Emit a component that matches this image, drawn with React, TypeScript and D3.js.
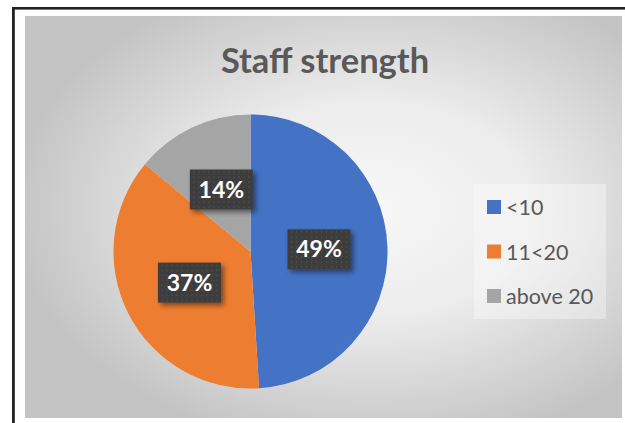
import React from "react";
import * as d3 from "d3";

const categories = ["<10", "11<20", "above 20"];
const values = [49, 37, 14];
const colors = ["#4472C4", "#ED7D31", "#A5A5A5"];
const title = "Staff strength";

const W = 625;
const H = 423;

export default function App() {
  const cx = 250.5;
  const cy = 251.5;
  const r = 137;
  const pie = d3.pie<number>().sort(null).value((d) => d)(values);
  const arc = d3.arc<d3.PieArcDatum<number>>().innerRadius(0).outerRadius(r);
  const total = d3.sum(values);
  const legendY = d3.scalePoint<string>().domain(categories).range([207, 296]);
  const font = "Lato, 'Liberation Sans', sans-serif";

  return (
    <svg width={W} height={H} style={{ position: "absolute", left: 0, top: 0 }}>
      <defs>
        <radialGradient id="bg" cx="58%" cy="48%" r="60%">
          <stop offset="0%" stopColor="#f7f7f7" />
          <stop offset="45%" stopColor="#ececec" />
          <stop offset="100%" stopColor="#c4c4c4" />
        </radialGradient>
        <pattern id="dots" width="5" height="5" patternUnits="userSpaceOnUse">
          <rect width="5" height="5" fill="#3d3d3d" />
          <rect x="2" y="2" width="1.2" height="1.2" fill="#575757" />
        </pattern>
        <filter id="shadow" x="-20%" y="-20%" width="150%" height="160%">
          <feDropShadow dx="3" dy="3" stdDeviation="2.5" floodColor="#000" floodOpacity="0.45" />
        </filter>
      </defs>
      <rect x={0} y={0} width={W} height={H} fill="#ffffff" />
      <rect x={25} y={16} width={597} height={402} fill="url(#bg)" />
      {/* black frame */}
      <rect x={12} y={7} width={W - 12} height={2.6} fill="#222" />
      <rect x={12} y={7} width={2.8} height={H - 7} fill="#222" />

      <text
        x={325}
        y={72.5}
        textAnchor="middle"
        fontFamily={font}
        fontWeight="bold"
        fontSize={34.5}
        fill="#595959"
      >
        {title}
      </text>

      <g transform={`translate(${cx},${cy})`}>
        {pie.map((p, i) => (
          <path key={i} d={arc(p) || ""} fill={colors[i]} />
        ))}
        {pie.map((p, i) => {
          const [lx, ly] = arc.centroid(p);
          const label = `${Math.round((p.data / total) * 100)}%`;
          return (
            <g key={"l" + i} transform={`translate(${lx},${ly})`}>
              <rect x={-31.5} y={-20} width={63} height={40} fill="url(#dots)" filter="url(#shadow)" />
              <text
                x={0}
                y={8}
                textAnchor="middle"
                fontFamily={font}
                fontWeight="bold"
                fontSize={23}
                fill="#ffffff"
              >
                {label}
              </text>
            </g>
          );
        })}
      </g>

      <rect x={474} y={184} width={132} height={135} fill="#ffffff" fillOpacity={0.35} />
      {categories.map((c, i) => (
        <g key={c} transform={`translate(487,${legendY(c)})`}>
          <rect x={0} y={-7} width={14} height={14} fill={colors[i]} />
          <text x={19} y={8} fontFamily={font} fontSize={21.5} fill="#595959">
            {c}
          </text>
        </g>
      ))}
    </svg>
  );
}
